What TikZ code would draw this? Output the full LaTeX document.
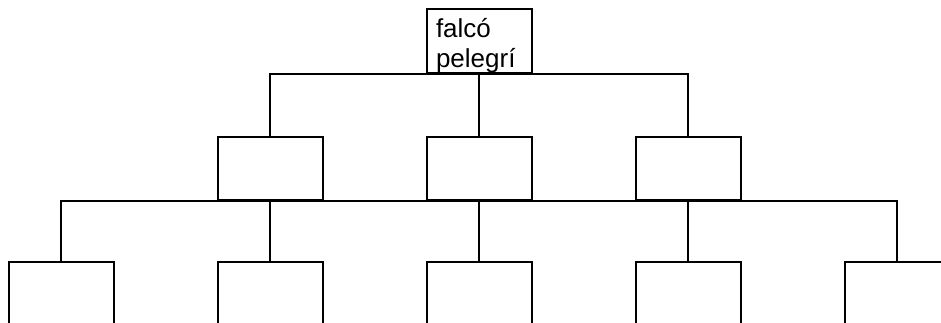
\documentclass[tikz,border=0pt]{standalone}
\usepackage{fontspec}
\setmainfont{Liberation Sans}
\begin{document}
\begin{tikzpicture}[x=1pt,y=-1pt,
  box/.style={draw=black, line width=2pt, minimum width=105pt, minimum height=63pt, inner sep=0pt},
  link/.style={draw=black, line width=2pt}]
\useasboundingbox (0,0) rectangle (941,322);
\clip (0,0) rectangle (941,322);
% level 0
\node[box, align=left, text width=86pt, font=\fontsize{26}{30}\selectfont] (top) at (479,41)
  {\rule{0pt}{28pt}falcó\\pelegrí};
% level 1
\node[box] (m1) at (270,168) {};
\node[box] (m2) at (479,168) {};
\node[box] (m3) at (688,168) {};
% level 2
\node[box] (b1) at (61,293) {};
\node[box] (b2) at (270,293) {};
\node[box] (b3) at (479,293) {};
\node[box] (b4) at (688,293) {};
\node[box] (b5) at (897,293) {};
% connectors
\draw[link] (m1.north) |- (top.south) -| (m3.north);
\draw[link] (top.south) -- (m2.north);
\draw[link] (b1.north) |- (m2.south) -| (b5.north);
\draw[link] (m1.south) -- (b2.north);
\draw[link] (m2.south) -- (b3.north);
\draw[link] (m3.south) -- (b4.north);
\end{tikzpicture}
\end{document}
